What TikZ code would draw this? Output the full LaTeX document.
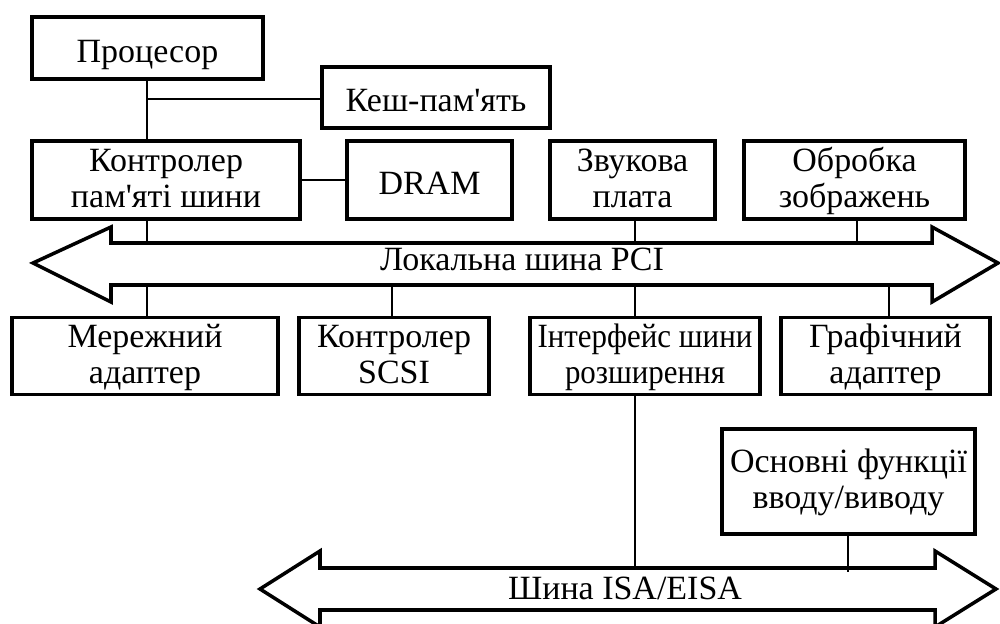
\documentclass[tikz,border=0pt]{standalone}
\usepackage{fontspec}
\usepackage{graphicx}
\newfontfamily\tnr{Liberation Serif}
\newcommand\stTwo{\rule[-7pt]{0pt}{29.5pt}}
\newcommand\stOne{\rule[-7pt]{0pt}{38pt}}
\newcommand\cnd[1]{\scalebox{0.91}[1]{#1}}
\begin{document}
\begin{tikzpicture}[x=0.03cm,y=-0.03cm,
  box/.style={draw, line width=3.2pt, inner sep=0pt, align=center,
    font=\tnr\fontsize{29}{30.7}\selectfont},
  lbl/.style={inner sep=0pt, anchor=base, font=\tnr\fontsize{29}{30.7}\selectfont},
  wire/.style={line width=1.6pt},
  bus/.style={draw, line width=3pt, line join=miter, miter limit=10}]
\useasboundingbox (0,0) rectangle (1000,624);
% boxes
\node[box, minimum width=231*0.03cm, minimum height=62*0.03cm] (proc) at (147.5,48) {\stOne Процесор};
\node[box, minimum width=228*0.03cm, minimum height=61*0.03cm] (cache) at (436,97.5) {\stOne Кеш-пам'ять};
\node[box, minimum width=268*0.03cm, minimum height=78*0.03cm] (ctrl) at (166,180) {\stTwo Контролер\\\stTwo пам'яті шини};
\node[box, minimum width=165*0.03cm, minimum height=78*0.03cm] (dram) at (429.5,180) {\stOne DRAM};
\node[box, minimum width=165*0.03cm, minimum height=78*0.03cm] (sound) at (632.5,180) {\stTwo Звукова\\\stTwo плата};
\node[box, minimum width=221*0.03cm, minimum height=78*0.03cm] (img) at (854.5,180) {\stTwo Обробка\\\stTwo зображень};
\node[box, minimum width=266*0.03cm, minimum height=77*0.03cm] (net) at (145,356) {\stTwo Мережний\\\stTwo адаптер};
\node[box, minimum width=190*0.03cm, minimum height=77*0.03cm] (scsi) at (394,356) {\stTwo Контролер\\\stTwo SCSI};
\node[box, minimum width=230*0.03cm, minimum height=77*0.03cm] (iface) at (645,356) {\stTwo\cnd{Інтерфейс шини}\\\stTwo\cnd{розширення}};
\node[box, minimum width=209*0.03cm, minimum height=77*0.03cm] (graph) at (885.5,356) {\stTwo Графічний\\\stTwo адаптер};
\node[box, minimum width=253*0.03cm, minimum height=105*0.03cm] (io) at (848.5,481.5) {\stTwo Основні функції\\\stTwo вводу/виводу};
% buses
\draw[bus] (33,263) -- (111,227) -- (111,243) -- (932,243) -- (932,227) -- (998,263)
  -- (932,302) -- (932,285) -- (111,285) -- (111,302) -- cycle;
\node[lbl] (pcilbl) at (522,271) {Локальна шина PCI};
\draw[bus] (260,589) -- (320,551) -- (320,568) -- (935,568) -- (935,551) -- (996,589)
  -- (935,627) -- (935,610) -- (320,610) -- (320,627) -- cycle;
\node[lbl] (isalbl) at (625,599) {Шина ISA/EISA};
% bus line coordinates
\coordinate (pcitop) at (0,243);
\coordinate (pcibot) at (0,285);
\coordinate (isatop) at (0,568);
\coordinate (xa) at (147,0);
\coordinate (xb) at (392,0);
\coordinate (xc) at (635,0);
\coordinate (xd) at (857,0);
\coordinate (xe) at (889,0);
\coordinate (xf) at (848,0);
\coordinate (j) at (147,99);
% connectors
\draw[wire] (proc.south -| xa) -- (ctrl.north -| xa);
\draw[wire] (j) -- (cache.west |- j);
\draw[wire] (ctrl.east) -- (dram.west);
\draw[wire] (ctrl.south -| xa) -- (pcitop -| xa);
\draw[wire] (sound.south -| xc) -- (pcitop -| xc);
\draw[wire] (img.south -| xd) -- (pcitop -| xd);
\draw[wire] (pcibot -| xa) -- (net.north -| xa);
\draw[wire] (pcibot -| xb) -- (scsi.north -| xb);
\draw[wire] (pcibot -| xc) -- (iface.north -| xc);
\draw[wire] (pcibot -| xe) -- (graph.north -| xe);
\draw[wire] (iface.south -| xc) -- (isatop -| xc);
\draw[wire] (io.south -| xf) -- ([yshift=-0.12cm]isatop -| xf);
\end{tikzpicture}
\end{document}
